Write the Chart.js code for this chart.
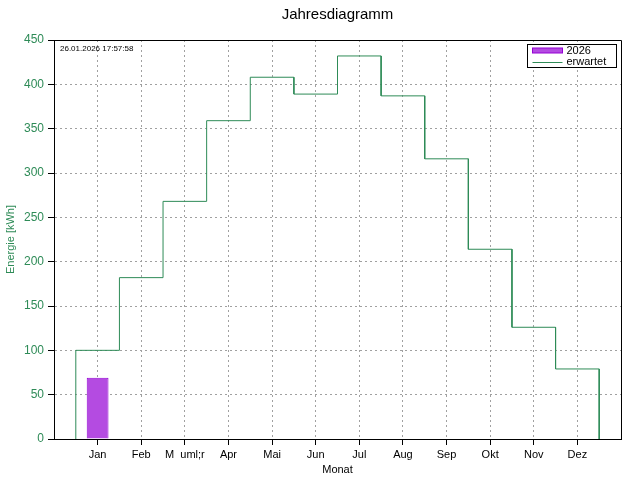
<!DOCTYPE html>
<html>
<head>
<meta charset="utf-8">
<script src="https://cdn.jsdelivr.net/npm/chart.js@4/dist/chart.umd.min.js"></script>
<style>
html,body{margin:0;padding:0;background:#fff;}
#wrap{width:640px;height:480px;}
</style>
</head>
<body>
<div id="wrap"><canvas id="c" width="640" height="480"></canvas></div>
<script>
const months = ['Jan','Feb','M  uml;r','Apr','Mai','Jun','Jul','Aug','Sep','Okt','Nov','Dez'];
const expected = [100,182,268,359,408,389,432,387,316,214,126,79];
const actual2026 = [69];
const yTicks = [0,50,100,150,200,250,300,350,400,450];
const timestamp = '26.01.2026 17:57:58';
const chartTitle = 'Jahresdiagramm';
const yTitle = 'Energie [kWh]';
const xTitle = 'Monat';

const FONT = "'Liberation Sans Narrow', 'Liberation Sans', Arial, sans-serif";
const GREEN = '#2e8b57';
const GRID = '#a0a0a0';

// step outline built from the expected monthly values
const stepPts = [{x: 0.5, y: 0}];
expected.forEach((v, i) => {
  stepPts.push({x: i + 0.5, y: v});
  stepPts.push({x: i + 1.5, y: v});
});
stepPts.push({x: expected.length + 0.5, y: 0});

const barPts = actual2026.map((v, i) => ({x: i + 1, y: v}));

const framePlugin = {
  id: 'frame',
  afterDraw(chart) {
    const {ctx, chartArea: a} = chart;
    ctx.save();
    ctx.strokeStyle = '#000';
    ctx.lineWidth = 1;
    ctx.beginPath();
    ctx.moveTo(Math.round(a.left) + 0.5, Math.round(a.top) + 0.5);
    ctx.lineTo(Math.round(a.right) + 0.5, Math.round(a.top) + 0.5);
    ctx.lineTo(Math.round(a.right) + 0.5, Math.round(a.bottom) + 0.5);
    ctx.stroke();
    // timestamp
    ctx.fillStyle = '#000';
    ctx.font = '8px ' + FONT;
    ctx.textBaseline = 'middle';
    ctx.textAlign = 'left';
    ctx.fillText(timestamp, a.left + 6, a.top + 9);
    // legend box
    const ds = chart.data.datasets;
    const bx = Math.round(a.right) - 93.5, by = Math.round(a.top) + 4.5;
    const bw = 89, bh = 23;
    ctx.fillStyle = '#fff';
    ctx.fillRect(bx, by, bw, bh);
    ctx.strokeStyle = '#000';
    ctx.strokeRect(bx, by, bw, bh);
    ctx.font = '11px ' + FONT;
    // bar entry
    const sx = bx + 5, sw = 30;
    let ly = by + 6;
    ctx.fillStyle = ds[0].backgroundColor;
    ctx.fillRect(sx, ly - 2.5, sw, 5);
    ctx.strokeStyle = ds[0].borderColor;
    ctx.strokeRect(sx, ly - 2.5, sw, 5);
    ctx.fillStyle = '#000';
    ctx.fillText(ds[0].label, sx + sw + 4, ly);
    // line entry
    ly = by + 17;
    ctx.strokeStyle = ds[1].borderColor;
    ctx.beginPath();
    ctx.moveTo(sx, Math.round(ly) + 0.5);
    ctx.lineTo(sx + sw, Math.round(ly) + 0.5);
    ctx.stroke();
    ctx.fillStyle = '#000';
    ctx.fillText(ds[1].label, sx + sw + 4, ly);
    ctx.restore();
  }
};

Chart.defaults.font.family = FONT;
Chart.defaults.font.size = 11;
Chart.defaults.color = '#000';

new Chart(document.getElementById('c'), {
  type: 'bar',
  data: {
    datasets: [
      {
        type: 'bar',
        label: '2026',
        data: barPts,
        backgroundColor: '#b44be1',
        borderColor: '#9400d3',
        borderWidth: 1,
        categoryPercentage: 0.5,
        barPercentage: 1.0,
        order: 2
      },
      {
        type: 'line',
        label: 'erwartet',
        data: stepPts,
        borderColor: GREEN,
        borderWidth: 1,
        pointRadius: 0,
        tension: 0,
        fill: false,
        order: 1
      }
    ]
  },
  options: {
    responsive: false,
    animation: false,
    devicePixelRatio: 1,
    layout: {padding: {left: 0, right: 19, top: 0, bottom: 0}},
    plugins: {
      legend: {display: false},
      tooltip: {enabled: false},
      title: {
        display: true,
        fullSize: false,
        text: chartTitle,
        color: '#000',
        font: {size: 15, weight: 'normal'},
        padding: {top: 6, bottom: 16}
      }
    },
    scales: {
      x: {
        type: 'linear',
        min: 0,
        max: 13,
        offset: false,
        afterFit(s) { s.height = 41; },
        ticks: {
          stepSize: 1,
          autoSkip: false,
          maxRotation: 0,
          padding: 3,
          color: '#000',
          callback: (v) => (v >= 1 && v <= months.length) ? months[v - 1] : ''
        },
        grid: {
          offset: false,
          color: (c) => (c.tick && c.tick.value >= 1 && c.tick.value <= 12) ? GRID : 'rgba(0,0,0,0)',
          tickColor: (c) => (c.tick && c.tick.value >= 1 && c.tick.value <= 12) ? '#000' : 'rgba(0,0,0,0)',
          tickLength: 6,
          tickBorderDash: [],
          lineWidth: 1
        },
        border: {display: true, color: '#000', width: 1, dash: [2, 3]},
        title: {display: true, text: xTitle, color: '#000', font: {size: 11}, padding: {top: 0, bottom: 3}}
      },
      y: {
        type: 'linear',
        min: 0,
        max: 450,
        afterFit(s) { s.width = 54; },
        afterBuildTicks(s) { s.ticks = yTicks.map(v => ({value: v})); },
        ticks: {
          color: GREEN,
          padding: 4,
          font: {size: 12}
        },
        grid: {
          color: (c) => (c.tick && c.tick.value > 0 && c.tick.value < 450) ? GRID : 'rgba(0,0,0,0)',
          tickColor: '#000',
          tickLength: 6,
          tickBorderDash: [],
          lineWidth: 1
        },
        border: {display: true, color: '#000', width: 1, dash: [2, 3]},
        title: {display: true, text: yTitle, color: GREEN, font: {size: 11}, padding: {top: 4, bottom: 0}}
      }
    }
  },
  plugins: [framePlugin]
});
</script>
</body>
</html>
